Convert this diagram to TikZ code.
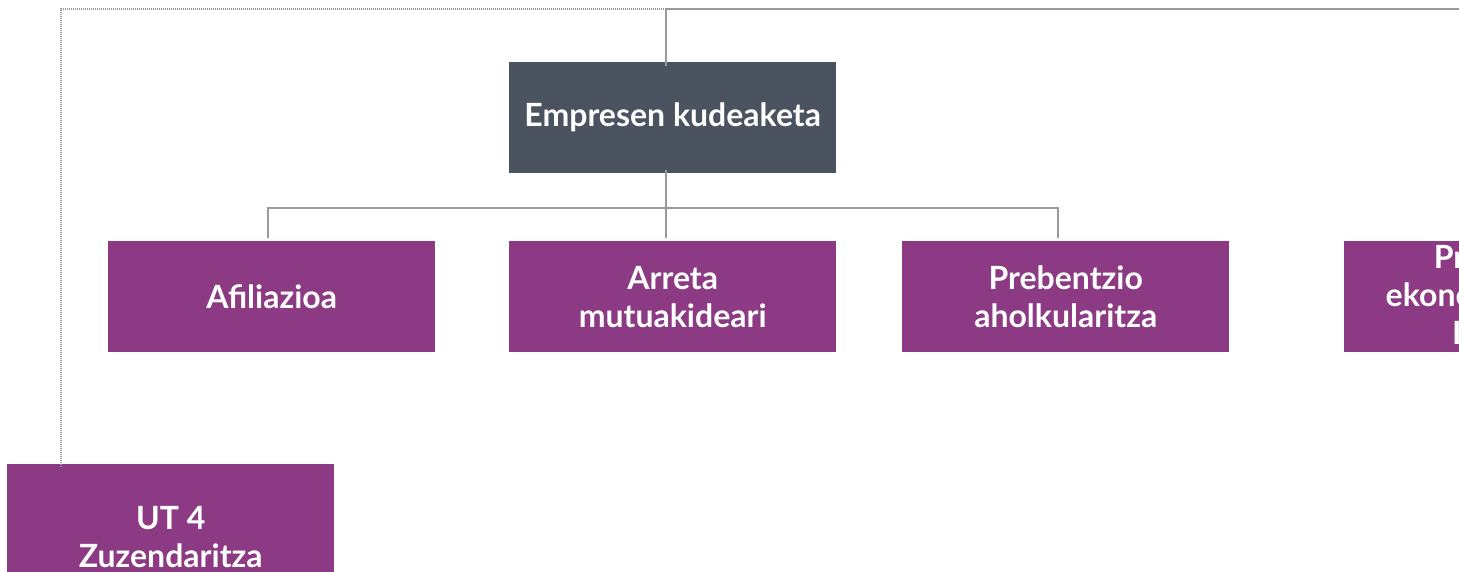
\documentclass[tikz,border=0pt]{standalone}
\usepackage{fontspec}
\setmainfont{Lato}
\definecolor{boxpurple}{HTML}{8B3A83}
\definecolor{boxdark}{HTML}{4B5260}
\definecolor{linegray}{HTML}{9A9A9A}
\begin{document}
\begin{tikzpicture}[x=1pt,y=-1pt,
  orgbox/.style={fill=boxpurple, minimum width=327pt, minimum height=111pt, inner sep=0pt,
    text=white, font=\fontsize{32}{38}\selectfont\bfseries, align=center, anchor=north west},
  topbox/.style={orgbox, fill=boxdark},
  conn/.style={draw=linegray, line width=2pt},
  dotconn/.style={draw=linegray, line width=2pt, dash pattern=on 1pt off 1pt}]
\useasboundingbox (0,0) rectangle (1459,571);
\clip (0,0) rectangle (1459,571);
% nodes
\node[topbox] (emp) at (509,62) {Empresen kudeaketa};
\node[orgbox] (afi) at (108,241) {Afiliazioa};
\node[orgbox] (arr) at (509,241) {Arreta\\mutuakideari};
\node[orgbox] (pre) at (902,241) {Prebentzio\\aholkularitza};
\node[orgbox] (pek) at (1344,241) {Prestazioa\\ekonomikoak eta\\IT (ALE)};
\node[orgbox, minimum height=146pt] (ut4) at (7,464) {UT 4\\Zuzendaritza};
% coordinates
\coordinate (top) at (666,9);
\coordinate (topr) at (1470,9);
\coordinate (topl) at (61,9);
\coordinate (bus) at (666,208);
\coordinate (busl) at (268,208);
\coordinate (busr) at (1058,208);
% connectors
\draw[conn] (top) -- ([yshift=-4pt]top |- emp.north);
\draw[conn] (top) -- (topr);
\draw[dotconn] (top) -- (topl) -- ([yshift=-4pt]topl |- ut4.north);
\draw[conn] ([yshift=3pt]bus |- emp.south) -- ([yshift=3pt]bus |- arr.north);
\draw[conn] ([yshift=3pt]busl |- afi.north) -- (busl) -- (busr) -- ([yshift=3pt]busr |- pre.north);
\end{tikzpicture}
\end{document}
